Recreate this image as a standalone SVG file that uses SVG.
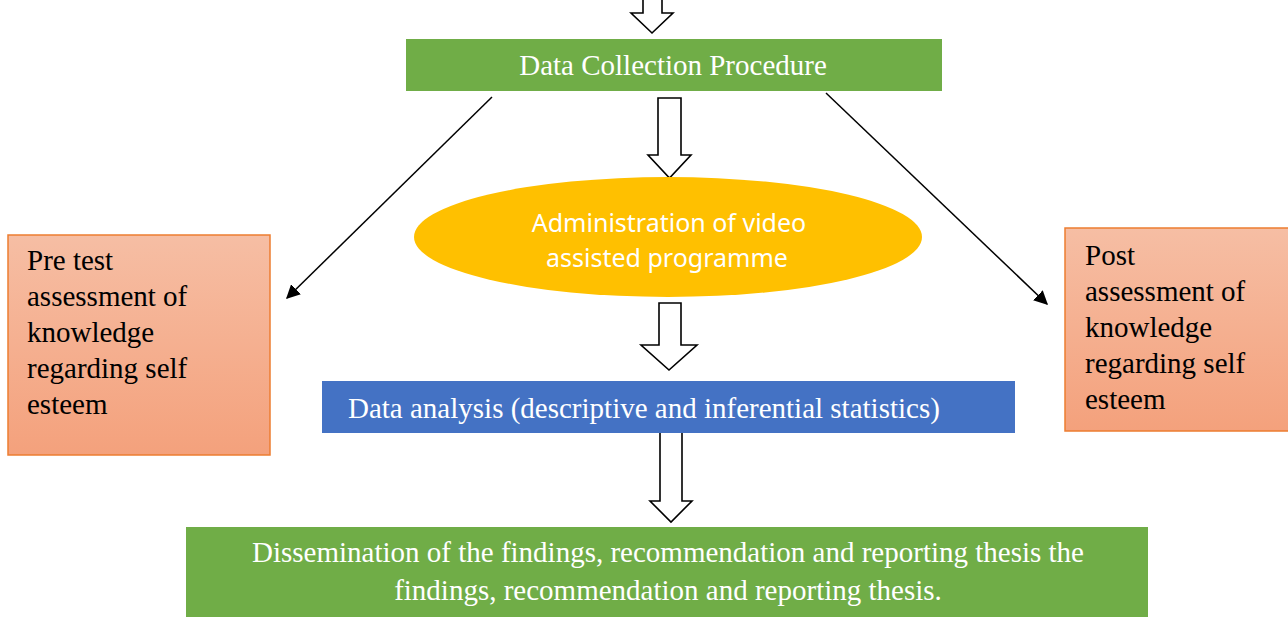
<svg xmlns="http://www.w3.org/2000/svg" width="1288" height="617" viewBox="0 0 1288 617">
<defs>
<linearGradient id="og" x1="0" y1="0" x2="0" y2="1">
<stop offset="0" stop-color="#f6bea4"/>
<stop offset="1" stop-color="#f4a17c"/>
</linearGradient>
<marker id="ah2" viewBox="0 0 10 10" refX="9" refY="5" markerWidth="14" markerHeight="14" markerUnits="userSpaceOnUse" orient="auto">
<path d="M0,0 L10,5 L0,10 z" fill="#000"/>
</marker>
</defs>
<style>
.serif{font-family:"Liberation Serif","Times New Roman",serif;}
.sans{font-family:"Noto Sans","Open Sans",sans-serif;}
.wt{fill:#ffffff;}
.bk{fill:#000000;}
.blk{fill:#ffffff;stroke:#000;stroke-width:1.6;}
.ln{stroke:#000;stroke-width:1.5;fill:none;}
</style>
<rect width="1288" height="617" fill="#ffffff"/>
<g id="connectors">
<path class="blk" d="M643,0 L643,13 L631,13 L652,33 L673,13 L662,13 L662,0"/>
<path class="blk" d="M658,98 L681,98 L681,155 L691,155 L669.5,178 L648,155 L658,155 Z"/>
<path class="blk" d="M659,303 L681,303 L681,345 L697,345 L669,370 L641,345 L659,345 Z"/>
<path class="blk" d="M660,432 L682,432 L682,501 L692,501 L671,522 L650,501 L660,501 Z"/>
<line class="ln" x1="492" y1="97" x2="287" y2="298" marker-end="url(#ah2)"/>
<line class="ln" x1="826" y1="93" x2="1047" y2="304" marker-end="url(#ah2)"/>
</g>
<g id="node-collection">
<rect x="406" y="39" width="536" height="52" fill="#70ad47"/>
<text class="serif wt" x="673" y="75" font-size="29" text-anchor="middle">Data Collection Procedure</text>
</g>
<g id="node-administration">
<ellipse cx="668" cy="237" rx="254" ry="60" fill="#ffc000"/>
<text class="sans wt" x="669" y="232" font-size="25" text-anchor="middle">Administration of video</text>
<text class="sans wt" x="667" y="267" font-size="25" text-anchor="middle">assisted programme</text>
</g>
<g id="node-analysis">
<rect x="322" y="381" width="693" height="52" fill="#4472c4"/>
<text class="serif wt" x="348" y="418" font-size="29">Data analysis (descriptive and inferential statistics)</text>
</g>
<g id="node-dissemination">
<rect x="186" y="527" width="962" height="92" fill="#70ad47"/>
<text class="serif wt" x="668" y="562" font-size="29" text-anchor="middle">Dissemination of the findings, recommendation and reporting thesis the</text>
<text class="serif wt" x="668" y="600" font-size="29" text-anchor="middle">findings, recommendation and reporting thesis.</text>
</g>
<g id="node-pretest">
<rect x="8" y="235" width="262" height="220" fill="url(#og)" stroke="#ed7d31" stroke-width="1.5"/>
<text class="serif bk" font-size="29"><tspan x="27" y="270">Pre test</tspan><tspan x="27" y="306">assessment of</tspan><tspan x="27" y="342">knowledge</tspan><tspan x="27" y="378">regarding self</tspan><tspan x="27" y="414">esteem</tspan></text>
</g>
<g id="node-posttest">
<rect x="1065" y="228" width="230" height="203" fill="url(#og)" stroke="#ed7d31" stroke-width="1.5"/>
<text class="serif bk" font-size="29"><tspan x="1085" y="265">Post</tspan><tspan x="1085" y="301">assessment of</tspan><tspan x="1085" y="337">knowledge</tspan><tspan x="1085" y="373">regarding self</tspan><tspan x="1085" y="409">esteem</tspan></text>
</g>
</svg>
